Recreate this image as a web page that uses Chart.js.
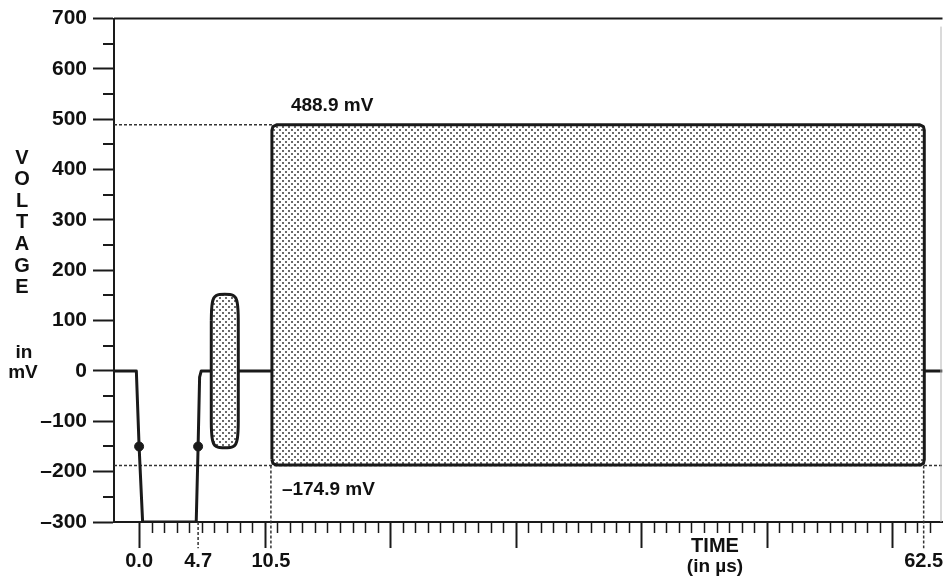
<!DOCTYPE html>
<html>
<head>
<meta charset="utf-8">
<script src="https://cdn.jsdelivr.net/npm/chart.js@4.4.1/dist/chart.umd.min.js"></script>
<style>
  html, body { margin: 0; padding: 0; background: #fff; }
  #wrap { width: 948px; height: 584px; position: relative; }
</style>
</head>
<body>
<div id="wrap"><canvas id="chartPulse"></canvas></div>
<script>
// time in µs, voltage in mV
var waveT = [-2, -0.22, 0, 0.28, 4.55, 4.7, 4.82, 4.95, 10.58];
var waveV = [0, 0, -150, -300, -300, -150, -12, 0, 0];
var tailT = [62.55, 64];
var tailV = [0, 0];

// burst envelope (488.9 / -174.9 mV labels)
var burstT = [10.58, 10.58, 10.66, 10.95, 62.2, 62.48, 62.55, 62.55, 62.48, 62.2, 10.95, 10.66, 10.58];
var burstV = [-176, 478, 485.5, 488.9, 488.9, 485.5, 478, -176, -183.5, -187, -187, -183.5, -176];

// small packet
var pillT = [5.75, 5.77, 5.83, 5.95, 6.15, 6.4, 7.25, 7.5, 7.7, 7.82, 7.88, 7.9,
             7.9, 7.88, 7.82, 7.7, 7.5, 7.25, 6.4, 6.15, 5.95, 5.83, 5.77, 5.75, 5.75];
var pillV = [100, 120, 135, 145, 150, 152, 152, 150, 145, 135, 120, 100,
             -100, -120, -135, -145, -150, -152, -152, -150, -145, -135, -120, -100, 100];

var markT = [0.0, 4.7];
var markV = [-150, -150];

var highT = [-2, 10.58];
var highV = [488.9, 488.9];
var lowT = [-2, 64];
var lowV = [-188, -188];

var dropT = [4.7, 10.5, 62.5];
var dropTop = [-300, -188, -188];
var dropBottom = -352;

var yTicks = [700, 600, 500, 400, 300, 200, 100, 0, -100, -200, -300];
var xLabelValues = [0.0, 4.7, 10.5, 62.5];
var xLabels = ['0.0', '4.7', '10.5', '62.5'];

var INK = '#1a1a1a';
var FONT = 'bold 20px "Liberation Sans", Arial, sans-serif';
var FONT_S = 'bold 19px "Liberation Sans", Arial, sans-serif';

function pts(xs, ys) {
    return xs.map(function(x, i) { return { x: x, y: ys[i] }; });
}

function stipple() {
    var c = document.createElement('canvas');
    c.width = 6; c.height = 6;
    var g = c.getContext('2d');
    g.fillStyle = '#fff';
    g.fillRect(0, 0, 6, 6);
    g.fillStyle = '#6a6a6a';
    g.fillRect(0, 0, 2, 2);
    g.fillRect(3, 3, 2, 2);
    return g.createPattern(c, 'repeat');
}

function minus(v) {
    return v < 0 ? '\u2013' + Math.abs(v) : String(v);
}

var decor = {
    id: 'decor',
    afterDraw: function(chart) {
        var ctx = chart.ctx, sx = chart.scales.x, sy = chart.scales.y, a = chart.chartArea;
        ctx.save();
        ctx.strokeStyle = INK;
        ctx.lineWidth = 2;
        ctx.beginPath();
        ctx.moveTo(a.left, a.top);
        ctx.lineTo(a.right, a.top);
        ctx.stroke();

        ctx.strokeStyle = '#b5b5b5';
        ctx.lineWidth = 1;
        ctx.beginPath();
        ctx.moveTo(a.right - 1.5, a.top + 8);
        ctx.lineTo(a.right - 1.5, a.bottom);
        ctx.stroke();

        // y half ticks
        ctx.strokeStyle = INK;
        ctx.lineWidth = 2;
        for (var i = 0; i < yTicks.length - 1; i++) {
            var py = Math.round(sy.getPixelForValue((yTicks[i] + yTicks[i + 1]) / 2));
            ctx.beginPath();
            ctx.moveTo(a.left - 11, py);
            ctx.lineTo(a.left, py);
            ctx.stroke();
        }

        // x ticks, 1 µs minor, 10 µs major
        for (var t = 0; t <= 63; t++) {
            var px = Math.round(sx.getPixelForValue(t)) + 0.5;
            var major = t % 10 === 0;
            ctx.lineWidth = major ? 2 : 1.5;
            ctx.beginPath();
            ctx.moveTo(px, a.bottom);
            ctx.lineTo(px, a.bottom + (major ? 26 : 11));
            ctx.stroke();
        }

        ctx.fillStyle = '#111';
        ctx.font = FONT;
        ctx.textBaseline = 'middle';
        ctx.textAlign = 'center';
        xLabelValues.forEach(function(v, i) {
            var cx = sx.getPixelForValue(v);
            var w = ctx.measureText(xLabels[i]).width;
            if (cx + w / 2 > chart.width - 2) cx = chart.width - 2 - w / 2;
            ctx.fillText(xLabels[i], cx, 561);
        });

        ctx.fillText('TIME', 715, 546);
        ctx.font = FONT_S;
        ctx.fillText('(in \u00b5s)', 715, 567);

        ctx.font = FONT;
        'VOLTAGE'.split('').forEach(function(ch, i) {
            ctx.fillText(ch, 22, 158 + i * 21.6);
        });
        ctx.font = FONT_S;
        ctx.fillText('in', 24, 353);
        ctx.fillText('mV', 23, 373);

        ctx.textAlign = 'left';
        ctx.fillText('488.9 mV', sx.getPixelForValue(10.5) + 20, sy.getPixelForValue(488.9) - 19);
        ctx.fillText('\u2013174.9 mV', sx.getPixelForValue(10.5) + 11, sy.getPixelForValue(-188) + 24);
        ctx.restore();
    }
};

var dotted = { borderColor: '#333', borderWidth: 1.5, borderDash: [3, 2], pointRadius: 0, fill: false, order: 5 };

var datasets = [
    Object.assign({ data: pts(highT, highV) }, dotted),
    Object.assign({ data: pts(lowT, lowV) }, dotted),
    {
        data: pts(burstT, burstV), borderColor: INK, borderWidth: 3, backgroundColor: stipple(),
        fill: 'shape', pointRadius: 0, borderJoinStyle: 'round', order: 3
    },
    { data: pts(waveT, waveV), borderColor: INK, borderWidth: 3, pointRadius: 0, fill: false, borderJoinStyle: 'round', order: 2 },
    { data: pts(tailT, tailV), borderColor: INK, borderWidth: 3, pointRadius: 0, fill: false, order: 2 },
    {
        data: pts(pillT, pillV), borderColor: INK, borderWidth: 3, backgroundColor: stipple(),
        fill: 'shape', pointRadius: 0, tension: 0.2, borderJoinStyle: 'round', order: 1
    },
    { data: pts(markT, markV), showLine: false, pointRadius: 4.5, pointBackgroundColor: INK, pointBorderColor: INK, order: 0 }
];
dropT.forEach(function(t, i) {
    datasets.push(Object.assign({ data: pts([t, t], [dropTop[i], dropBottom]), clip: false }, dotted));
});

new Chart(document.getElementById('chartPulse').getContext('2d'), {
    type: 'line',
    data: { datasets: datasets },
    options: {
        responsive: true,
        maintainAspectRatio: false,
        animation: false,
        layout: { padding: { top: 14, right: 0, bottom: 0, left: 0 } },
        plugins: { legend: { display: false }, tooltip: { enabled: false } },
        scales: {
            x: {
                type: 'linear', min: -2, max: 64,
                ticks: { display: false },
                grid: { display: false },
                border: { display: true, color: INK, width: 2 },
                afterFit: function(s) { s.height = 62; }
            },
            y: {
                min: -300, max: 700,
                afterBuildTicks: function(s) { s.ticks = yTicks.map(function(v) { return { value: v }; }); },
                ticks: { callback: minus, color: '#111', padding: 6, autoSkip: false, font: { family: '"Liberation Sans", Arial, sans-serif', size: 21, weight: 'bold' } },
                grid: { drawOnChartArea: false, tickLength: 21, tickWidth: 2, color: INK },
                border: { display: true, color: INK, width: 2 },
                afterFit: function(s) { s.width = 114; }
            }
        }
    },
    plugins: [decor]
});
</script>
</body>
</html>
